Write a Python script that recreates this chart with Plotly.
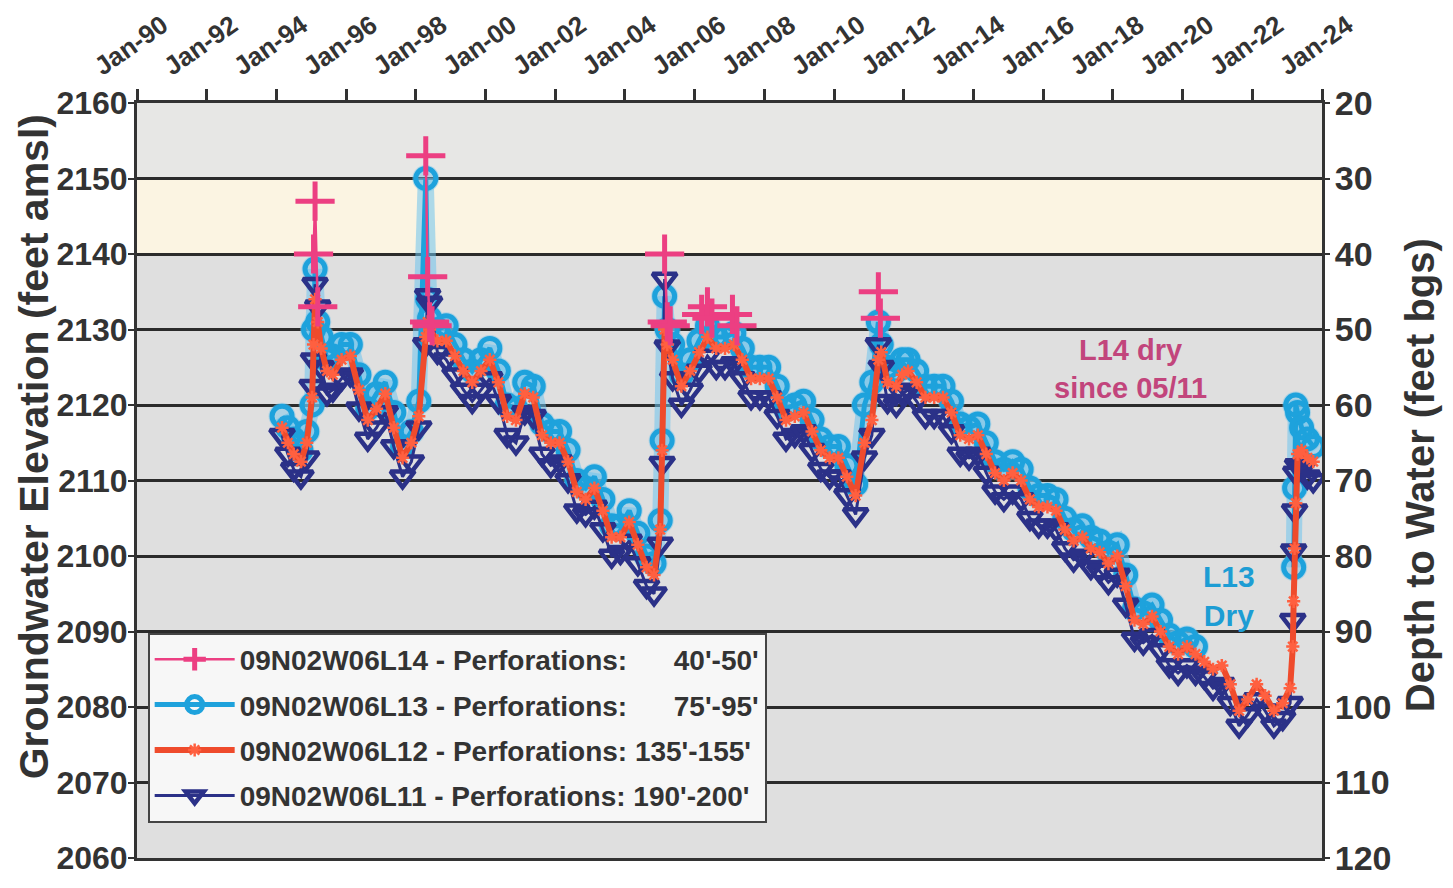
import plotly.graph_objects as go

# ---------------- data ----------------
dates = [
    "1994-03-01", "1994-05-01", "1994-07-01", "1994-09-15", "1994-11-15",
    "1995-01-10", "1995-01-25", "1995-02-10", "1995-03-10", "1995-04-15", "1995-06-15", "1995-08-15", "1995-11-15",
    "1996-02-15", "1996-05-15", "1996-08-15", "1996-11-15",
    "1997-02-15", "1997-05-15", "1997-08-15", "1997-11-15",
    "1998-02-01", "1998-04-15", "1998-05-05", "1998-05-25", "1998-08-15", "1998-11-15",
    "1999-02-15", "1999-05-15", "1999-08-15", "1999-11-15",
    "2000-02-15", "2000-05-15", "2000-08-15", "2000-11-15",
    "2001-02-15", "2001-05-15", "2001-08-15", "2001-11-15",
    "2002-02-15", "2002-05-15", "2002-08-15", "2002-11-15",
    "2003-02-15", "2003-05-15", "2003-08-15", "2003-11-15",
    "2004-02-15", "2004-05-15", "2004-08-15", "2004-11-01",
    "2005-01-05", "2005-01-25", "2005-02-20", "2005-03-20", "2005-05-15", "2005-08-15", "2005-11-15",
    "2006-02-15", "2006-05-15", "2006-08-15", "2006-11-15",
    "2007-02-15", "2007-05-15", "2007-08-15", "2007-11-15",
    "2008-02-15", "2008-05-15", "2008-08-15", "2008-11-15",
    "2009-02-15", "2009-05-15", "2009-08-15", "2009-11-15",
    "2010-02-15", "2010-05-15", "2010-08-15", "2010-11-15",
    "2011-02-01", "2011-04-10", "2011-05-10", "2011-07-15", "2011-10-15", "2011-12-15",
    "2012-02-15", "2012-05-15", "2012-08-15", "2012-11-15",
    "2013-02-15", "2013-05-15", "2013-08-15", "2013-11-15",
    "2014-02-15", "2014-05-15", "2014-08-15", "2014-11-15",
    "2015-02-15", "2015-05-15", "2015-08-15", "2015-11-15",
    "2016-02-15", "2016-05-15", "2016-08-15", "2016-11-15",
    "2017-02-15", "2017-05-15", "2017-08-15", "2017-11-15",
    "2018-02-15", "2018-05-15", "2018-08-15", "2018-11-15",
    "2019-02-15", "2019-05-15", "2019-08-15", "2019-11-15",
    "2020-02-15", "2020-05-15", "2020-08-15", "2020-11-15",
    "2021-02-15", "2021-05-15", "2021-08-15", "2021-11-15",
    "2022-02-15", "2022-05-15", "2022-08-15", "2022-11-15",
    "2023-02-01", "2023-03-01", "2023-03-10", "2023-03-20", "2023-04-01", "2023-04-20",
    "2023-06-01", "2023-08-01", "2023-10-01",
]

# 09N02W06L13 (75'-95') - dry 2020-2023
l13 = [
    2118.5, 2117, 2115.5, 2114, 2116.5,
    2120, 2130, 2138, 2131, 2129, 2126, 2126.5, 2128,
    2128, 2124, 2119.5, 2121.5,
    2123, 2119, 2114.5, 2116.5,
    2120.5, 2150, 2134, 2131.5, 2130, 2130.5,
    2128, 2126, 2124.5, 2126,
    2127.5, 2124.5, 2120, 2119.5,
    2123, 2122.5, 2117.5, 2116.5,
    2116.5, 2114, 2110, 2109,
    2110.5, 2107.5, 2104, 2104,
    2106, 2103, 2100, 2099,
    2104.7, 2115.3, 2134.4, 2130, 2128, 2124, 2126,
    2128.5, 2130.5, 2129, 2129,
    2129.5, 2127.5, 2125, 2125,
    2125, 2122.5, 2119.5, 2120,
    2120.5, 2118, 2115.5, 2114.5,
    2114.5, 2112, 2109.5, 2120,
    2123, 2131, 2128, 2125, 2124.5, 2126,
    2126, 2124.5, 2122.5, 2122.5,
    2122.5, 2120.5, 2117.5, 2117,
    2117.5, 2115, 2112.5, 2111.5,
    2112.5, 2111.5, 2109, 2108,
    2108, 2107.5, 2105, 2103.5,
    2104, 2102.5, 2102, 2100.5,
    2101.5, 2097.5, 2093, 2092.5,
    2093.5, 2091.5, 2089.5, 2088.5,
    2089, 2088, None, None,
    None, None, None, None,
    None, None, None, None,
    None, None, 2098.5, 2109, 2120, 2119,
    2117, 2115.5, 2114.5,
]

# 09N02W06L12 (135'-155')
l12 = [
    2117, 2115, 2113.5, 2112.5, 2115,
    2121, 2128, 2134, 2131, 2127.5, 2124.5, 2124, 2126,
    2126.5, 2122, 2118, 2119.5,
    2121.5, 2117, 2113, 2115,
    2118.5, 2129, 2131, 2130, 2128.5, 2128.5,
    2126.5, 2124.5, 2123, 2124.5,
    2126, 2123, 2118.5, 2118,
    2121.5, 2121, 2116, 2115,
    2115, 2112.5, 2108.5, 2107.5,
    2109, 2106, 2102.5, 2102.5,
    2104.5, 2101.5, 2098.5, 2097.5,
    2103.5, 2114, 2130, 2128, 2126, 2122.5, 2124.5,
    2127, 2129, 2127.5, 2127.5,
    2128, 2126, 2123.5, 2123.5,
    2123.5, 2121, 2118, 2118.5,
    2119, 2116.5, 2114, 2113,
    2113, 2110.5, 2108, 2115,
    2118, 2126, 2127, 2123, 2122.5, 2124,
    2124.5, 2123, 2121, 2121,
    2121, 2119, 2116, 2115.5,
    2116, 2113.5, 2111, 2110,
    2111, 2110, 2107.5, 2106.5,
    2106.5, 2106, 2103.5, 2102,
    2102.5, 2101, 2100.5, 2099,
    2100, 2096, 2091.5, 2091,
    2092, 2090, 2088, 2087,
    2088, 2087, 2086, 2085,
    2085.5, 2083, 2079.5, 2081,
    2083, 2081.5, 2079.5, 2080.5,
    2082.5, 2088, 2094, 2101, 2107, 2113.5,
    2114, 2113, 2112.5,
]

# 09N02W06L11 (190'-200')
l11 = [
    2116, 2113.5, 2111.5, 2110.5, 2113,
    2122.5, 2126, 2136, 2133, 2125, 2121.5, 2122, 2123.5,
    2124, 2119.5, 2115.5, 2117,
    2119, 2114.5, 2110.5, 2112.5,
    2117, 2128, 2134.5, 2133.5, 2127, 2126,
    2124, 2122, 2120.5, 2122,
    2123.5, 2120.5, 2116, 2115,
    2119, 2118.5, 2113.5, 2112,
    2112.5, 2110, 2106, 2105.5,
    2106.5, 2103.5, 2100, 2100.5,
    2102, 2099, 2096, 2095,
    2101.6, 2112.3, 2136.7, 2127.7, 2123.5, 2120, 2122,
    2124.5, 2126.5, 2125, 2125,
    2125.5, 2123.5, 2121, 2121,
    2121, 2118.5, 2115.5, 2116,
    2116.5, 2114, 2111.5, 2110.5,
    2110.5, 2108, 2105.5, 2113,
    2116, 2128, 2125, 2120.5, 2120, 2121.5,
    2122, 2120.5, 2118.5, 2118.5,
    2118.5, 2116.5, 2113.5, 2113,
    2113.5, 2111, 2108.5, 2107.5,
    2108.5, 2107.5, 2105, 2104,
    2104, 2103.5, 2101, 2099.5,
    2100, 2098.5, 2098, 2096.5,
    2097.5, 2093.5, 2089, 2088.5,
    2089.5, 2087.5, 2085.5, 2084.5,
    2085.5, 2084.5, 2084, 2082.5,
    2083, 2080.5, 2077.5, 2079,
    2081, 2079.5, 2077.5, 2078.5,
    2080.5, 2091.5, 2100.7, 2106, 2111, 2112,
    2111.5, 2110.5, 2110,
]

# 09N02W06L14 (40'-50') - only wet when water is above ~2130; dry since 05/11
l14_dates = [
    "1995-01-25", "1995-02-10", "1995-03-10", "1996-06-01",
    "1998-04-15", "1998-05-05", "1998-05-25", "1998-06-20", "2001-01-01",
    "2005-02-20", "2005-03-20", "2005-04-20", "2005-10-01",
    "2006-03-15", "2006-05-15", "2006-07-01", "2006-10-01",
    "2007-02-01", "2007-03-20", "2009-01-01",
    "2011-04-10", "2011-05-01",
]
l14 = [
    2140, 2147, 2133, None,
    2153, 2137, 2131, 2130.5, None,
    2140, 2131, 2130.5, None,
    2132, 2133, 2131.5, None,
    2132, 2130.5, None,
    2135, 2131.5,
]

NB = "\u00a0"
series_names = [
    "09N02W06L14 - Perforations:" + NB * 5 + " 40'-50'",
    "09N02W06L13 - Perforations:" + NB * 5 + " 75'-95'",
    "09N02W06L12 - Perforations: 135'-155'",
    "09N02W06L11 - Perforations: 190'-200'",
]

elev_range = [2060, 2160]
depth_range = [120, 20]
x_range = ["1990-01-01", "2024-01-01"]
cream_band = [2140, 2150]
top_band = [2150, 2160]

# ---------------- styling ----------------
FONT = "Liberation Sans, Arial, sans-serif"
TXT = "#333333"

fig = go.Figure()

# soft halo of the scanned cyan markers
fig.add_trace(go.Scatter(
    x=dates, y=l13, showlegend=False, hoverinfo="skip", mode="lines+markers",
    line=dict(color="rgba(110,195,236,0.55)", width=16),
    marker=dict(symbol="circle", size=27, color="rgba(110,195,236,0.45)"),
))
fig.add_trace(go.Scatter(
    x=dates, y=l13, name=series_names[1], legendrank=2, legendgroup="b",
    mode="lines+markers",
    line=dict(color="#1ea2dc", width=5),
    marker=dict(symbol="circle-open", size=20, color="#1ea2dc", line=dict(width=5, color="#1ea2dc")),
))
fig.add_trace(go.Scatter(
    x=dates, y=l11, name=series_names[3], legendrank=4, legendgroup="d",
    mode="lines+markers",
    line=dict(color="#2b3188", width=3),
    marker=dict(symbol="triangle-down-open", size=21, color="#2b3188", line=dict(width=4.5, color="#2b3188")),
))
fig.add_trace(go.Scatter(
    x=dates, y=l12, name=series_names[2], legendrank=3, legendgroup="c",
    mode="lines+markers",
    line=dict(color="#ef4b2c", width=6),
    marker=dict(symbol="asterisk-open", size=11, color="#ff6040", line=dict(width=2.5, color="#ff6040")),
))
fig.add_trace(go.Scatter(
    x=l14_dates, y=l14, name=series_names[0], legendrank=1, legendgroup="a",
    mode="lines+markers",
    line=dict(color="#ec3f82", width=2.5),
    marker=dict(symbol="cross-thin-open", size=28, color="#ec3f82", line=dict(width=5, color="#ec3f82")),
))
# dummy trace to anchor the depth axis
fig.add_trace(go.Scatter(x=[None], y=[None], yaxis="y2", showlegend=False, hoverinfo="skip"))

# the page body adds an 8px margin around the figure, so the figure is 16px smaller
fig.update_layout(
    width=1437, height=872,
    margin=dict(l=129, r=123, t=95, b=22, pad=0),
    paper_bgcolor="white",
    plot_bgcolor="#dfdfdf",
    font=dict(family=FONT, color=TXT),
    xaxis=dict(
        type="date", side="top", range=x_range, dtick="M24", tick0="1990-01-01",
        tickformat="%b-%y", tickangle=-35, ticklabelshift=-42, automargin=False,
        ticklabeloverflow="allow",
        ticks="outside", ticklen=11, tickwidth=2.5, tickcolor=TXT,
        showline=True, linewidth=3, linecolor=TXT, mirror=True,
        showgrid=False, zeroline=False,
        tickfont=dict(family=FONT, size=26, color=TXT, weight="bold"),
    ),
    yaxis=dict(
        range=elev_range, dtick=10, tick0=2060, automargin=False,
        ticks="outside", ticklen=6, tickwidth=2, tickcolor=TXT, ticklabelstandoff=-6,
        showline=True, linewidth=3, linecolor=TXT,
        showgrid=True, gridcolor="#2b2b2b", gridwidth=3, zeroline=False,
        tickfont=dict(family=FONT, size=32, color=TXT, weight="bold"),
    ),
    yaxis2=dict(
        overlaying="y", side="right", range=depth_range, dtick=10, tick0=20, automargin=False,
        ticks="outside", ticklen=5, tickwidth=2, tickcolor=TXT, ticklabelstandoff=-2,
        showline=True, linewidth=3, linecolor=TXT,
        showgrid=False, zeroline=False,
        tickfont=dict(family=FONT, size=34, color=TXT, weight="bold"),
    ),
    legend=dict(
        x=0.009, y=0.047, xanchor="left", yanchor="bottom",
        bgcolor="#f7f7f7", bordercolor="#444444", borderwidth=2,
        font=dict(family=FONT, size=28, color=TXT, weight="bold"),
        itemwidth=80, tracegroupgap=6,
    ),
    shapes=[
        dict(type="rect", xref="x domain", x0=0, x1=1, yref="y", y0=cream_band[0], y1=cream_band[1],
             fillcolor="#fbf4e2", line=dict(width=0), layer="below"),
        dict(type="rect", xref="x domain", x0=0, x1=1, yref="y", y0=top_band[0], y1=top_band[1],
             fillcolor="#e7e7e5", line=dict(width=0), layer="below"),
    ],
    annotations=[
        dict(xref="paper", yref="paper", x=-0.0869, y=0.544, textangle=-90, showarrow=False,
             xanchor="center", yanchor="middle", text="Groundwater Elevation (feet amsl)",
             font=dict(family=FONT, size=41, color=TXT, weight="bold")),
        dict(xref="paper", yref="paper", x=1.0827, y=0.507, textangle=-90, showarrow=False,
             xanchor="center", yanchor="middle", text="Depth to Water (feet bgs)",
             font=dict(family=FONT, size=40, color=TXT, weight="bold")),
        dict(x="2018-07-01", y=2124.8, xref="x", yref="y", text="L14 dry<br>since 05/11",
             showarrow=False, font=dict(family=FONT, size=29, color="#c2457c", weight="bold")),
        dict(x="2021-05-01", y=2094.7, xref="x", yref="y", text="L13<br>Dry",
             showarrow=False, font=dict(family=FONT, size=30, color="#1d9dd4", weight="bold")),
    ],
)

fig.write_html("out.html")
